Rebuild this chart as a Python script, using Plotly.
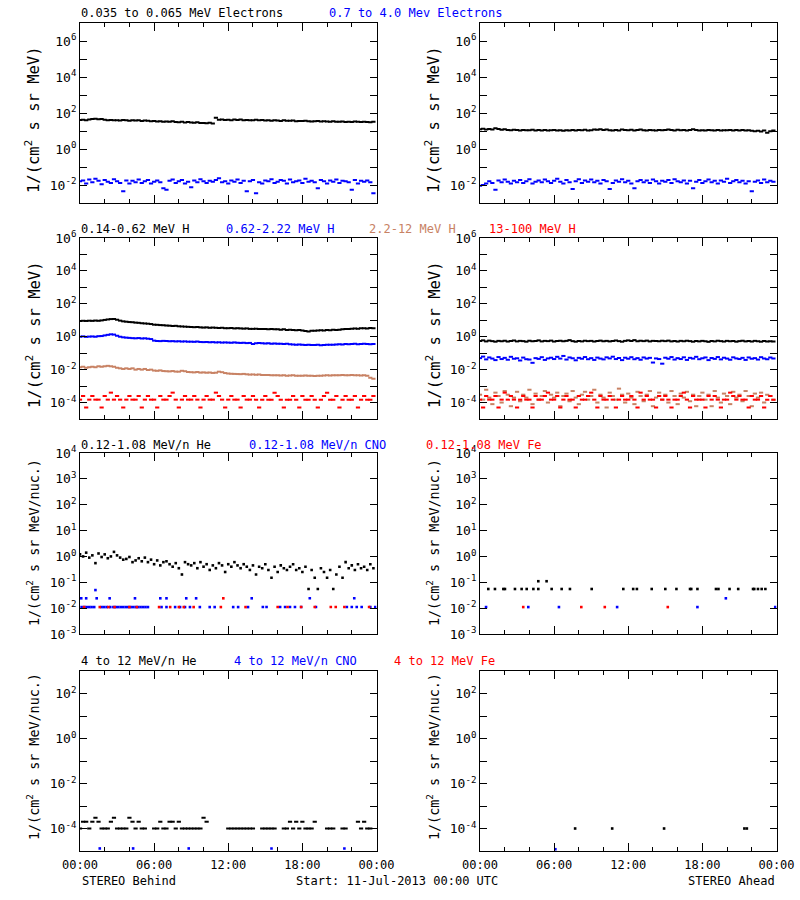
import pandas as pd
import plotly.graph_objects as go

# ---------------- data ----------------
T0 = pd.Timestamp("2013-07-11 00:00")
times15 = pd.date_range(T0, periods=96, freq="15min")

def at_hours(hours):
    return [T0 + pd.Timedelta(hours=h) for h in hours]

# Row 1: electrons (Behind, Ahead)
beh_e_low = [41, 42, 40, 43, 46, 48, 45, 47, 42, 40, 41, 39,
             40, 38, 41, 39, 37, 39, 38, 40, 36, 38, 37, 35,
             36, 34, 35, 33, 34, 33, 35, 32, 31, 33, 30, 32,
             30, 29, 31, 28, 28, 27, 29, 26, 55, 42, 43, 41,
             42, 40, 43, 41, 44, 40, 41, 39, 40, 42, 39, 41,
             38, 40, 37, 39, 38, 36, 39, 37, 37, 38, 35, 36,
             36, 37, 35, 34, 35, 36, 34, 35, 34, 33, 35, 33,
             33, 34, 32, 33, 32, 34, 33, 32, 33, 32, 31, 33]
beh_e_high = [0.016, 0.018, 0.012, 0.020, 0.014, 0.022, 0.017, 0.011, 0.019, 0.015, 0.013, 0.021,
              0.016, 0.013, 0.0045, 0.018, 0.012, 0.017, 0.014, 0.020, 0.013, 0.016, 0.019, 0.012,
              0.015, 0.018, 0.014, 0.0065, 0.0055, 0.017, 0.020, 0.013, 0.016, 0.019, 0.012, 0.015,
              0.0075, 0.018, 0.014, 0.021, 0.016, 0.013, 0.017, 0.015, 0.019, 0.024, 0.014, 0.016,
              0.012, 0.018, 0.015, 0.020, 0.013, 0.017, 0.0045, 0.016, 0.019, 0.0035, 0.014, 0.012,
              0.018, 0.016, 0.021, 0.013, 0.015, 0.019, 0.017, 0.012, 0.020, 0.014, 0.016, 0.018,
              0.013, 0.022, 0.015, 0.017, 0.014, 0.0065, 0.019, 0.016, 0.012, 0.018, 0.015, 0.020,
              0.013, 0.017, 0.016, 0.014, 0.0055, 0.019, 0.012, 0.017, 0.015, 0.018, 0.014, 0.0035]
ahd_e_low = [12.5, 13.5, 12.0, 13.0, 12.2, 14.0, 12.8, 11.8, 12.4, 11.5, 11.0, 11.8,
             11.2, 10.6, 11.4, 10.9, 11.0, 11.6, 10.6, 11.2, 10.8, 11.4, 10.5, 11.0,
             11.3, 10.7, 11.1, 10.4, 11.0, 10.8, 11.5, 10.6, 11.2, 10.9, 11.6, 10.7,
             11.0, 12.0, 11.6, 12.6, 11.5, 12.2, 11.0, 10.5, 11.4, 10.8, 12.0, 11.3,
             11.0, 11.8, 10.6, 11.5, 12.3, 11.1, 10.7, 11.4, 11.0, 10.6, 11.3, 10.9,
             11.2, 12.0, 11.4, 10.8, 11.6, 10.9, 11.2, 10.7, 11.5, 12.6, 11.3, 10.8,
             11.1, 10.6, 11.4, 11.0, 10.8, 11.3, 10.7, 11.1, 10.9, 11.5, 10.6, 11.2,
             10.8, 11.3, 10.5, 11.0, 10.2, 9.6, 10.4, 9.5, 10.6, 8.0, 9.8, 10.5]
ahd_e_high = [0.009, 0.010, 0.012, 0.016, 0.013, 0.0055, 0.018, 0.014, 0.020, 0.015, 0.012, 0.017,
              0.014, 0.019, 0.013, 0.016, 0.021, 0.012, 0.015, 0.018, 0.014, 0.020, 0.016, 0.013,
              0.017, 0.022, 0.015, 0.012, 0.019, 0.014, 0.006, 0.016, 0.021, 0.013, 0.018, 0.015,
              0.020, 0.014, 0.017, 0.012, 0.019, 0.016, 0.006, 0.013, 0.018, 0.015, 0.021, 0.014,
              0.017, 0.012, 0.0065, 0.016, 0.019, 0.014, 0.018, 0.013, 0.020, 0.016, 0.012, 0.017,
              0.015, 0.019, 0.013, 0.021, 0.016, 0.014, 0.018, 0.012, 0.017, 0.0065, 0.015, 0.019,
              0.013, 0.016, 0.020, 0.014, 0.017, 0.012, 0.018, 0.015, 0.022, 0.013, 0.016, 0.019,
              0.014, 0.017, 0.012, 0.016, 0.0045, 0.015, 0.018, 0.013, 0.020, 0.014, 0.017, 0.015]

# Row 2: protons
beh_h1 = [9.0, 9.3, 9.1, 9.4, 9.2, 9.6, 9.3, 9.8, 10.5, 11.2, 11.8, 12.0,
          10.8, 9.5, 8.6, 8.2, 7.8, 7.6, 7.2, 7.0, 6.6, 6.4, 6.2, 5.9,
          5.4, 5.3, 5.1, 5.0, 4.8, 4.7, 4.5, 4.6, 4.3, 4.2, 4.1, 4.0,
          3.9, 3.8, 3.9, 3.7, 3.6, 3.7, 3.5, 3.6, 3.5, 3.4, 3.5, 3.3,
          3.3, 3.4, 3.2, 3.3, 3.2, 3.1, 3.2, 3.0, 3.0, 3.1, 2.9, 3.0,
          2.9, 2.8, 2.9, 2.8, 2.8, 2.7, 2.8, 2.6, 2.7, 2.6, 2.5, 2.6,
          2.4, 2.2, 2.1, 2.3, 2.3, 2.4, 2.5, 2.4, 2.6, 2.5, 2.7, 2.6,
          2.7, 2.8, 2.9, 3.0, 3.1, 3.2, 3.1, 3.3, 3.3, 3.2, 3.4, 3.3]
beh_h2 = [1.00, 1.05, 0.98, 1.02, 1.04, 1.00, 1.08, 1.10, 1.20, 1.30, 1.40, 1.35,
          1.15, 1.00, 0.92, 0.88, 0.85, 0.82, 0.80, 0.83, 0.78, 0.80, 0.76, 0.72,
          0.58, 0.55, 0.54, 0.56, 0.55, 0.53, 0.54, 0.52, 0.53, 0.51, 0.52, 0.50,
          0.50, 0.49, 0.51, 0.48, 0.47, 0.48, 0.46, 0.47, 0.45, 0.46, 0.44, 0.45,
          0.44, 0.43, 0.45, 0.43, 0.42, 0.43, 0.41, 0.42, 0.36, 0.40, 0.41, 0.40,
          0.39, 0.40, 0.38, 0.39, 0.37, 0.38, 0.36, 0.37, 0.35, 0.34, 0.33, 0.34,
          0.32, 0.31, 0.32, 0.31, 0.31, 0.32, 0.30, 0.31, 0.32, 0.33, 0.32, 0.34,
          0.35, 0.34, 0.36, 0.35, 0.36, 0.37, 0.35, 0.36, 0.37, 0.36, 0.35, 0.36]
beh_h3 = [0.014, 0.015, 0.013, 0.014, 0.015, 0.014, 0.016, 0.015, 0.016, 0.017, 0.016, 0.015,
          0.013, 0.012, 0.011, 0.012, 0.011, 0.012, 0.010, 0.011, 0.010, 0.011, 0.0095, 0.010,
          0.0088, 0.0085, 0.0090, 0.0082, 0.0080, 0.0078, 0.0082, 0.0076, 0.0075, 0.0085, 0.0080, 0.0072,
          0.0070, 0.0068, 0.0072, 0.0066, 0.0068, 0.0065, 0.0067, 0.0063, 0.0065, 0.0075, 0.0070, 0.0062,
          0.0058, 0.0056, 0.0055, 0.0054, 0.0053, 0.0055, 0.0052, 0.0050, 0.0051, 0.0049, 0.0050, 0.0048,
          0.0047, 0.0048, 0.0046, 0.0045, 0.0046, 0.0044, 0.0045, 0.0043, 0.0044, 0.0045, 0.0043, 0.0042,
          0.0043, 0.0044, 0.0042, 0.0043, 0.0041, 0.0043, 0.0042, 0.0044, 0.0045, 0.0044, 0.0046, 0.0045,
          0.0046, 0.0047, 0.0045, 0.0046, 0.0047, 0.0045, 0.0046, 0.0044, 0.0045, 0.0043, 0.0032, 0.0028]
beh_h4 = [1.5e-4, 2.5e-4, 5e-5, 1.5e-4, 2.5e-4, 1.5e-4, 1.5e-4, 5e-5, 2.5e-4, 1.5e-4, 4e-4, 1.5e-4,
          2.5e-4, 1.5e-4, 5e-5, 1.5e-4, 2.5e-4, 1.5e-4, 1.5e-4, 2.5e-4, 5e-5, 1.5e-4, 2.5e-4, 1.5e-4,
          1.5e-4, 5e-5, 2.5e-4, 1.5e-4, 1.5e-4, 2.5e-4, 4e-4, 1.5e-4, 5e-5, 1.5e-4, 2.5e-4, 1.5e-4,
          1.5e-4, 2.5e-4, 1.5e-4, 5e-5, 1.5e-4, 2.5e-4, 1.5e-4, 1.5e-4, 4e-4, 2.5e-4, 1.5e-4, 5e-5,
          1.5e-4, 2.5e-4, 1.5e-4, 1.5e-4, 5e-5, 2.5e-4, 1.5e-4, 1.5e-4, 2.5e-4, 1.5e-4, 5e-5, 1.5e-4,
          2.5e-4, 1.5e-4, 1.5e-4, 4e-4, 2.5e-4, 1.5e-4, 5e-5, 1.5e-4, 1.5e-4, 2.5e-4, 1.5e-4, 5e-5,
          2.5e-4, 1.5e-4, 1.5e-4, 2.5e-4, 1.5e-4, 5e-5, 1.5e-4, 2.5e-4, 4e-4, 1.5e-4, 1.5e-4, 2.5e-4,
          5e-5, 1.5e-4, 2.5e-4, 1.5e-4, 1.5e-4, 2.5e-4, 5e-5, 1.5e-4, 2.5e-4, 1.5e-4, 1.5e-4, 2.5e-4]
ahd_h1 = [0.55, 0.60, 0.52, 0.58, 0.54, 0.50, 0.56, 0.53, 0.57, 0.51, 0.55, 0.59,
          0.52, 0.56, 0.54, 0.50, 0.57, 0.53, 0.55, 0.60, 0.52, 0.56, 0.54, 0.58,
          0.51, 0.55, 0.57, 0.53, 0.56, 0.62, 0.54, 0.50, 0.55, 0.52, 0.57, 0.54,
          0.56, 0.51, 0.55, 0.58, 0.53, 0.56, 0.52, 0.55, 0.59, 0.54, 0.50, 0.56,
          0.60, 0.55, 0.62, 0.53, 0.57, 0.54, 0.58, 0.52, 0.56, 0.55, 0.53, 0.57,
          0.54, 0.58, 0.52, 0.55, 0.51, 0.56, 0.53, 0.57, 0.54, 0.50, 0.55, 0.52,
          0.56, 0.53, 0.49, 0.55, 0.52, 0.57, 0.54, 0.51, 0.56, 0.53, 0.55, 0.50,
          0.54, 0.57, 0.52, 0.55, 0.51, 0.56, 0.53, 0.50, 0.55, 0.52, 0.54, 0.51]
ahd_h2 = [0.050, 0.062, 0.042, 0.055, 0.047, 0.038, 0.058, 0.044, 0.052, 0.040, 0.060, 0.046,
          0.049, 0.036, 0.054, 0.043, 0.041, 0.026, 0.050, 0.045, 0.057, 0.039, 0.048, 0.053,
          0.044, 0.060, 0.047, 0.068, 0.041, 0.055, 0.049, 0.037, 0.052, 0.046, 0.058, 0.043,
          0.050, 0.039, 0.054, 0.047, 0.042, 0.056, 0.048, 0.061, 0.044, 0.051, 0.038, 0.053,
          0.046, 0.057, 0.043, 0.050, 0.040, 0.055, 0.047, 0.052, 0.027, 0.048, 0.044, 0.023,
          0.053, 0.046, 0.058, 0.041, 0.050, 0.044, 0.056, 0.039, 0.052, 0.047, 0.060, 0.043,
          0.049, 0.055, 0.038, 0.051, 0.045, 0.058, 0.042, 0.053, 0.047, 0.040, 0.056, 0.048,
          0.044, 0.052, 0.039, 0.055, 0.046, 0.050, 0.041, 0.057, 0.048, 0.043, 0.054, 0.047]
ahd_h3 = [3e-4, 1.5e-4, 6e-4, 2e-4, 8e-5, 4e-4, 2.5e-4, 1e-4, 5e-4, 3e-4, 6e-5, 2e-4,
          4.5e-4, 1.2e-4, 3e-4, 2e-4, 6e-4, 8e-5, 3.5e-4, 1.5e-4, 2.5e-4, 5e-4, 1e-4, 3e-4,
          2e-4, 4e-4, 6e-5, 2.5e-4, 3.5e-4, 1.2e-4, 5e-4, 2e-4, 8e-5, 3e-4, 4.5e-4, 1.5e-4,
          2.5e-4, 6e-4, 1e-4, 3e-4, 2e-4, 5e-5, 4e-4, 2.5e-4, 1.5e-4, 7e-4, 3e-4, 1e-4,
          3.5e-4, 2e-4, 8e-5, 4.5e-4, 2.5e-4, 1.2e-4, 3e-4, 5e-4, 6e-5, 2e-4, 4e-4, 1.5e-4,
          3e-4, 1e-4, 5e-4, 2.5e-4, 8e-5, 3.5e-4, 2e-4, 4.5e-4, 1.2e-4, 3e-4, 6e-5, 2.5e-4,
          4e-4, 1.5e-4, 3e-4, 6e-5, 5e-4, 2e-4, 1e-4, 3.5e-4, 2.5e-4, 8e-5, 4.5e-4, 2e-4,
          3e-4, 1.2e-4, 5e-4, 2.5e-4, 6e-5, 3.5e-4, 2e-4, 4e-4, 1e-4, 3e-4, 2.5e-4, 1.5e-4]
ahd_h4 = [1.5e-4, 5e-5, 2.5e-4, 1.5e-4, 1.5e-4, 2.5e-4, 5e-5, 1.5e-4, 4e-4, 1.5e-4, 2.5e-4, 1.5e-4,
          5e-5, 1.5e-4, 2.5e-4, 1.5e-4, 1.5e-4, 5e-5, 2.5e-4, 1.5e-4, 1.5e-4, 2.5e-4, 4e-4, 1.5e-4,
          1.5e-4, 2.5e-4, 5e-5, 1.5e-4, 2.5e-4, 1.5e-4, 1.5e-4, 5e-5, 2.5e-4, 1.5e-4, 1.5e-4, 2.5e-4,
          4e-4, 1.5e-4, 5e-5, 2.5e-4, 1.5e-4, 1.5e-4, 2.5e-4, 1.5e-4, 5e-5, 1.5e-4, 2.5e-4, 1.5e-4,
          1.5e-4, 2.5e-4, 1.5e-4, 5e-5, 4e-4, 1.5e-4, 2.5e-4, 1.5e-4, 1.5e-4, 5e-5, 2.5e-4, 1.5e-4,
          2.5e-4, 1.5e-4, 5e-5, 1.5e-4, 1.5e-4, 2.5e-4, 4e-4, 1.5e-4, 5e-5, 2.5e-4, 1.5e-4, 1.5e-4,
          1.5e-4, 5e-5, 2.5e-4, 1.5e-4, 2.5e-4, 1.5e-4, 5e-5, 1.5e-4, 1.5e-4, 4e-4, 2.5e-4, 1.5e-4,
          2.5e-4, 1.5e-4, 1.5e-4, 5e-5, 2.5e-4, 1.5e-4, 1.5e-4, 2.5e-4, 5e-5, 1.5e-4, 2.5e-4, 1.5e-4]

# Row 3: 0.12-1.08 MeV/n ions
beh_he_low = [1.2, 1.0, 1.4, 0.9, 1.1, 0.55, 1.3, 0.95, 1.2, 0.85, 1.0, 1.5,
              1.1, 0.9, 0.75, 0.8, 0.95, 0.6, 0.7, 0.85, 0.65, 0.9, 0.6, 0.75,
              0.5, 0.7, 0.45, 0.6, 0.65, 0.5, 0.4, 0.55, 0.35, 0.2, 0.6, 0.5,
              0.45, 0.55, 0.35, 0.6, 0.4, 0.5, 0.3, 0.45, 0.35, 0.55, 0.45, 0.25,
              0.5, 0.4, 0.6, 0.45, 0.35, 0.5, 0.4, 0.3, 0.45, 0.2, 0.4, 0.35,
              0.5, 0.3, 0.15, 0.4, 0.25, 0.45, 0.35, 0.3, 0.4, 0.5, 0.3, 0.35,
              0.25, 0.4, 0.055, 0.3, 0.15, 0.055, 0.35, 0.25, 0.15, 0.3, 0.055, 0.2,
              0.4, 0.15, 0.6, 0.35, 0.45, 0.3, 0.5, 0.35, 0.4, 0.3, 0.5, 0.35]
beh_cno_low_hours = [0.13, 0.35, 0.54, 0.75, 0.94, 1.15, 1.75, 1.95, 2.16, 2.45, 2.7, 2.9,
                     3.1, 3.3, 3.5, 3.7, 3.9, 4.1, 4.3, 4.5, 4.7, 4.9, 5.1, 5.3, 5.5,
                     6.6, 7.0, 7.7, 8.1, 8.5, 8.9, 9.7, 10.5, 10.9, 12.4, 12.8, 13.6,
                     14.8, 15.1, 16.2, 16.6, 17.0, 17.4, 17.9, 19.1, 21.6, 22.0, 22.4, 22.8, 23.5, 23.9,
                     0.1, 0.5, 1.35, 2.4, 4.45, 6.5, 7.0, 8.6, 9.4, 13.9, 18.6, 22.2,
                     1.25]
beh_cno_low = [0.011] * 51 + [0.024] * 12 + [0.05]
beh_fe_low_hours = [0.33, 1.6, 2.3, 2.8, 4.0, 4.6, 6.4, 7.3, 8.0, 8.4, 9.2, 11.4, 13.4,
                    16.0, 16.8, 17.9, 19.0, 20.3, 20.7, 21.4, 23.4, 11.6]
beh_fe_low = [0.011] * 21 + [0.024]
ahd_he_low_hours = [0.67, 1.21, 1.89, 2.02, 2.83, 3.37, 3.78, 4.32, 4.72, 5.80, 6.61, 7.28,
                    9.04, 11.6, 12.4, 12.7, 13.9, 15.0, 15.9, 17.0, 17.1, 17.6, 19.1, 19.3,
                    20.2, 20.9, 22.1, 22.2, 22.5, 22.8, 23.1, 4.72, 5.39]
ahd_he_low = [0.055] * 31 + [0.11, 0.11]
ahd_cno_low_hours = [0.49, 3.91, 6.39, 11.1, 17.6, 23.9, 19.9]
ahd_cno_low = [0.011, 0.011, 0.011, 0.011, 0.011, 0.011, 0.024]
ahd_fe_low_hours = [3.5, 8.2, 10.1, 15.2]
ahd_fe_low = [0.011, 0.011, 0.011, 0.011]

# Row 4: 4-12 MeV/n ions
beh_he_high = [1e-4, 2e-4, 2e-4, 1e-4, 2e-4, 3e-4, 2e-4, 1e-4, 1e-4, 1e-4, 2e-4, 3e-4,
               1e-4, 1e-4, 1e-4, 1e-4, 3e-4, 2e-4, 1e-4, 2e-4, 1e-4, 1e-4, None, None,
               1e-4, 1e-4, 2e-4, 1e-4, 1e-4, 2e-4, 2e-4, 1e-4, 2e-4, 1e-4, 1e-4, 1e-4,
               1e-4, 1e-4, 1e-4, 1e-4, 3e-4, 2e-4, None, None, None, None, None, None,
               1e-4, 1e-4, 1e-4, 1e-4, 1e-4, 1e-4, 1e-4, 1e-4, 1e-4, None, None, 1e-4,
               1e-4, 1e-4, 1e-4, 1e-4, None, None, 1e-4, 1e-4, 2e-4, 1e-4, 2e-4, 1e-4,
               2e-4, 1e-4, 1e-4, 1e-4, 2e-4, None, None, None, 1e-4, 1e-4, 1e-4, None,
               None, 1e-4, 1e-4, None, None, None, 2e-4, 1e-4, 2e-4, 1e-4, 1e-4, None]
beh_cno_high_hours = [1.6, 4.3, 8.8, 15.5, 21.4]
beh_cno_high = [1.3e-5, 1.3e-5, 1.3e-5, 1.3e-5, 1.3e-5]
ahd_he_high_hours = [7.7, 10.7, 14.9, 21.4, 21.6]
ahd_he_high = [1e-4, 1e-4, 1e-4, 1e-4, 1e-4]
ahd_cno_high_hours = [6.1]
ahd_cno_high = [1.2e-5]

# ---------------- styling ----------------
BLACK, BLUE, SIENNA, RED = "#000000", "#0000FF", "#C88264", "#FF0000"
FONT = "DejaVu Sans Mono"
W, H = 800, 900

series = [
    # (panel, x, y, colour, dense?)
    (0, times15, beh_e_low, BLACK, True), (0, times15, beh_e_high, BLUE, True),
    (1, times15, ahd_e_low, BLACK, True), (1, times15, ahd_e_high, BLUE, True),
    (2, times15, beh_h1, BLACK, True), (2, times15, beh_h2, BLUE, True),
    (2, times15, beh_h3, SIENNA, True), (2, times15, beh_h4, RED, True),
    (3, times15, ahd_h1, BLACK, True), (3, times15, ahd_h2, BLUE, True),
    (3, times15, ahd_h3, SIENNA, True), (3, times15, ahd_h4, RED, True),
    (4, times15, beh_he_low, BLACK, False),
    (4, at_hours(beh_cno_low_hours), beh_cno_low, BLUE, False),
    (4, at_hours(beh_fe_low_hours), beh_fe_low, RED, False),
    (5, at_hours(ahd_he_low_hours), ahd_he_low, BLACK, False),
    (5, at_hours(ahd_cno_low_hours), ahd_cno_low, BLUE, False),
    (5, at_hours(ahd_fe_low_hours), ahd_fe_low, RED, False),
    (6, times15, beh_he_high, BLACK, True),
    (6, at_hours(beh_cno_high_hours), beh_cno_high, BLUE, False),
    (7, at_hours(ahd_he_high_hours), ahd_he_high, BLACK, False),
    (7, at_hours(ahd_cno_high_hours), ahd_cno_high, BLUE, False),
]

fig = go.Figure()
for panel, xs, ys, col, dense in series:
    if dense:
        mk = dict(symbol="line-ew", size=3, color=col, line=dict(width=2, color=col))
    else:
        mk = dict(symbol="square", size=2.6, color=col, line=dict(width=0))
    fig.add_trace(go.Scatter(
        x=xs, y=ys, mode="markers", marker=mk,
        xaxis="x%d" % (panel + 1), yaxis="y%d" % (panel + 1),
        showlegend=False, hoverinfo="skip"))

x_dom = [[80 / W, 376.5 / W], [480 / W, 776.5 / W]]
y_top = [23, 238, 453, 671]
y_bot = [203, 419, 634, 851]
y_ranges = [(-3, 7), (-5, 6), (-3, 4), (-5, 3)]
y_label_step = [2, 2, 1, 2]

layout = dict(width=W, height=H,
              margin=dict(l=0, r=0, t=0, b=0, pad=0, autoexpand=False),
              paper_bgcolor="white", plot_bgcolor="white",
              font=dict(family=FONT, size=12, color="black"),
              showlegend=False)

for k in range(8):
    r, c = k // 2, k % 2
    lo, hi = y_ranges[r]
    exps = list(range(lo, hi + 1))
    major = [e for e in exps if e % y_label_step[r] == 0]
    minor = [e for e in exps if e % y_label_step[r] != 0]
    sfx = "" if k == 0 else str(k + 1)
    layout["xaxis" + sfx] = dict(
        domain=x_dom[c], anchor="y%d" % (k + 1), type="date", automargin=False,
        range=["2013-07-11 00:00", "2013-07-12 00:00"],
        tick0="2013-07-11 00:00", dtick=6 * 3600 * 1000, tickformat="%H:%M",
        ticks="inside", ticklen=8, tickwidth=1, tickcolor="black",
        minor=dict(dtick=2 * 3600 * 1000, ticks="inside", ticklen=4,
                   tickwidth=1, tickcolor="black", showgrid=False),
        showticklabels=(r == 3), ticklabelstandoff=3,
        tickfont=dict(family=FONT, size=12, color="black"),
        showline=True, linecolor="black", linewidth=1, mirror="ticks",
        showgrid=False, zeroline=False, fixedrange=True)
    ydict = dict(
        domain=[1 - y_bot[r] / H, 1 - y_top[r] / H], anchor="x%d" % (k + 1),
        type="log", range=[lo, hi], automargin=False, tickmode="array",
        tickvals=[10.0 ** e for e in major],
        ticktext=["10<sup>%d</sup>" % e for e in major],
        ticks="inside", ticklen=7, tickwidth=1, tickcolor="black",
        tickfont=dict(family=FONT, size=13, color="black"),
        showline=True, linecolor="black", linewidth=1, mirror="ticks",
        showgrid=False, zeroline=False, fixedrange=True)
    if minor:
        ydict["minor"] = dict(tickmode="array", tickvals=[10.0 ** e for e in minor],
                              ticks="inside", ticklen=7, tickwidth=1,
                              tickcolor="black", showgrid=False)
    layout["yaxis" + sfx] = ydict

annotations = []

def add_text(px, py, text, color=BLACK, size=12, xanchor="left", angle=0):
    annotations.append(dict(
        x=px / W, y=1 - py / H, xref="paper", yref="paper", text=text,
        showarrow=False, xanchor=xanchor, yanchor="middle", textangle=angle,
        borderpad=0, font=dict(family=FONT, size=size, color=color)))

# row headings
add_text(80, 13, "0.035 to 0.065 MeV Electrons")
add_text(328, 13, "0.7 to 4.0 Mev Electrons", BLUE)
add_text(80, 229, "0.14-0.62 MeV H")
add_text(225, 229, "0.62-2.22 MeV H", BLUE)
add_text(368, 229, "2.2-12 MeV H", SIENNA)
add_text(488, 229, "13-100 MeV H", RED)
add_text(80, 445, "0.12-1.08 MeV/n He")
add_text(248, 445, "0.12-1.08 MeV/n CNO", BLUE)
add_text(425, 445, "0.12-1.08 MeV Fe", RED)
add_text(80, 661, "4 to 12 MeV/n He")
add_text(233, 661, "4 to 12 MeV/n CNO", BLUE)
add_text(393, 661, "4 to 12 MeV Fe", RED)

# y titles
ytitle_c = [120, 335, 543, 757]
for r in range(4):
    txt = "1/(cm<sup>2</sup> s sr MeV)" if r < 2 else "1/(cm<sup>2</sup> s sr MeV/nuc.)"
    sz = 15.5 if r < 2 else 13.4
    for xc in (33, 433):
        add_text(xc, ytitle_c[r], txt, size=sz, xanchor="center", angle=-90)

# footer
add_text(81, 881, "STEREO Behind")
add_text(295, 881, "Start: 11-Jul-2013 00:00 UTC")
add_text(776, 881, "STEREO Ahead", xanchor="right")

layout["annotations"] = annotations
fig.update_layout(**layout)
fig.write_html("out.html", config={"displayModeBar": False},
               post_script="document.body.style.margin='0px';document.body.style.padding='0px';")
